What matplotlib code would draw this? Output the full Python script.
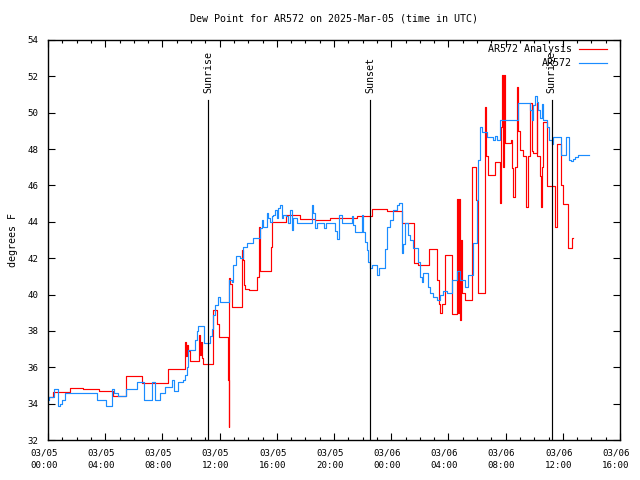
import matplotlib
matplotlib.use("Agg")
import matplotlib.pyplot as plt
import matplotlib.transforms as mtransforms
from matplotlib.lines import Line2D

# hours since 2025-03-05 00:00 UTC, dew point in deg F (step data)
ana_hours = [0.00, 0.35, 1.54, 2.45, 3.57, 4.55, 5.45, 6.57, 8.39, 9.58,
             9.65, 9.72, 9.79, 9.93, 10.56, 10.63, 10.70, 10.77, 10.84, 11.54,
             11.82, 11.99, 12.59, 12.64, 12.68, 12.73, 12.87, 13.55, 13.64, 13.71,
             13.78, 14.06, 14.62, 14.78, 14.83, 15.59, 15.64, 16.64, 17.62, 18.67,
             19.72, 21.59, 22.64, 23.69, 24.73, 25.62, 25.87, 26.64, 27.22, 27.36,
             27.41, 27.53, 27.76, 28.23, 28.58, 28.64, 28.74, 28.79, 28.85, 28.93,
             29.16, 29.63, 29.91, 30.05, 30.56, 30.66, 30.79, 31.26, 31.47, 31.61,
             31.68, 31.75, 31.82, 31.91, 31.96, 32.38, 32.47, 32.54, 32.68, 32.78,
             32.89, 33.01, 33.24, 33.43, 33.59, 33.71, 33.83, 33.94, 34.17, 34.23,
             34.41, 34.48, 34.55, 34.64, 34.87, 35.45, 35.62, 35.85, 35.99, 36.38,
             36.62, 36.73]
ana_dewpt = [34.35, 34.62, 34.84, 34.79, 34.69, 34.42, 35.50, 35.12, 35.89, 37.40,
             36.60, 37.20, 36.90, 36.33, 37.77, 36.70, 37.40, 36.50, 36.18, 39.15,
             38.40, 37.68, 35.30, 32.73, 40.89, 40.60, 39.30, 42.45, 41.90, 40.52,
             40.30, 40.25, 40.98, 43.73, 41.30, 42.63, 44.00, 44.37, 44.15, 44.10,
             44.23, 44.32, 44.69, 44.61, 43.95, 41.75, 41.60, 42.50, 40.80, 39.50,
             38.97, 39.50, 42.17, 38.95, 45.24, 39.00, 45.24, 38.60, 43.00, 40.07,
             39.70, 47.03, 45.20, 40.07, 50.33, 47.60, 46.57, 47.30, 47.30, 45.02,
             49.23, 52.07, 47.00, 52.07, 48.32, 48.50, 46.94, 45.38, 47.00, 51.43,
             49.00, 47.95, 47.60, 44.83, 47.60, 50.52, 47.90, 47.77, 50.52, 47.60,
             46.50, 44.83, 47.00, 49.50, 45.95, 43.73, 48.30, 46.00, 45.00, 42.54,
             43.09, 43.09]

obs_hours = [0.00, 0.07, 0.42, 0.72, 0.84, 0.96, 1.19, 3.41, 4.06, 4.45,
             4.62, 4.92, 5.45, 6.20, 6.73, 7.25, 7.48, 7.83, 8.18, 8.65,
             8.83, 9.11, 9.46, 9.58, 9.70, 9.79, 10.28, 10.40, 10.51, 10.94,
             11.33, 11.45, 11.56, 11.68, 11.91, 12.03, 12.68, 12.85, 12.96, 13.15,
             13.43, 13.66, 13.90, 14.36, 14.83, 14.94, 15.06, 15.29, 15.41, 15.52,
             15.64, 15.76, 15.87, 15.99, 16.11, 16.22, 16.34, 16.45, 16.64, 16.80,
             16.92, 17.04, 17.15, 17.39, 18.44, 18.55, 18.67, 18.79, 19.30, 19.42,
             20.07, 20.19, 20.37, 20.54, 21.24, 21.35, 21.47, 21.94, 22.05, 22.17,
             22.29, 22.40, 22.52, 22.64, 22.99, 23.17, 23.57, 23.69, 23.92, 24.15,
             24.38, 24.57, 24.73, 24.85, 24.97, 25.20, 25.31, 25.55, 25.90, 26.01,
             26.13, 26.24, 26.59, 26.71, 26.94, 27.18, 27.41, 27.64, 27.88, 28.23,
             28.58, 28.81, 29.16, 29.39, 29.74, 29.98, 30.09, 30.21, 30.33, 30.68,
             31.14, 31.26, 31.38, 31.61, 32.89, 33.71, 33.83, 33.94, 34.06, 34.17,
             34.29, 34.41, 34.52, 34.64, 34.87, 35.06, 35.23, 35.34, 35.85, 36.22,
             36.45, 36.55, 36.71, 36.85, 37.08, 37.85]
obs_dewpt = [34.20, 34.38, 34.79, 33.87, 34.00, 34.20, 34.57, 34.20, 33.87, 34.79,
             34.60, 34.42, 34.79, 35.21, 34.20, 35.21, 34.20, 34.57, 34.90, 35.30,
             34.69, 35.21, 35.30, 35.60, 36.03, 36.95, 37.50, 38.00, 38.27, 37.35,
             37.70, 38.10, 38.87, 39.40, 39.88, 39.57, 40.80, 40.70, 41.62, 42.12,
             42.00, 42.63, 42.82, 43.13, 43.64, 44.10, 43.70, 44.47, 44.20, 44.00,
             44.30, 44.40, 44.65, 44.20, 44.75, 44.93, 44.20, 44.37, 44.30, 43.95,
             44.65, 43.55, 44.20, 43.95, 44.93, 44.47, 43.64, 43.95, 43.64, 43.95,
             43.50, 43.04, 44.40, 43.95, 44.30, 43.80, 43.46, 44.37, 43.46, 42.91,
             42.45, 41.81, 41.44, 41.60, 41.07, 41.44, 42.50, 43.70, 44.10, 44.65,
             44.93, 45.05, 42.26, 42.80, 43.92, 43.30, 43.00, 42.54, 41.80, 40.98,
             40.70, 41.16, 40.43, 40.10, 39.88, 39.70, 40.00, 40.20, 40.07, 40.80,
             41.30, 40.80, 40.40, 41.07, 42.82, 45.20, 47.40, 49.23, 48.95, 48.65,
             48.50, 48.70, 48.50, 49.60, 50.55, 50.15, 49.60, 50.40, 50.92, 50.60,
             50.15, 49.70, 50.50, 49.60, 49.20, 48.50, 48.30, 48.65, 47.67, 48.65,
             47.40, 47.35, 47.45, 47.55, 47.67, 47.67]

sun_hours = [11.19, 22.52, 35.21]
sun_names = ["Sunrise", "Sunset", "Sunrise"]

tick_hours = list(range(0, 41, 4))
tick_labels = ["03/05\n00:00", "03/05\n04:00", "03/05\n08:00", "03/05\n12:00",
               "03/05\n16:00", "03/05\n20:00", "03/06\n00:00", "03/06\n04:00",
               "03/06\n08:00", "03/06\n12:00", "03/06\n16:00"]

plt.rcParams['font.family'] = 'DejaVu Sans Mono'
plt.rcParams['font.size'] = 7.2

fig = plt.figure(figsize=(6.4, 4.8), dpi=100)
ax = fig.add_axes([0.075, 0.0833, 0.89375, 0.8334])

ax.plot(ana_hours, ana_dewpt, color='#ff0000', lw=0.85, drawstyle='steps-post')
ax.plot(obs_hours, obs_dewpt, color='#1a8cff', lw=0.85, drawstyle='steps-post')

trans = mtransforms.blended_transform_factory(ax.transData, ax.transAxes)
for h, name in zip(sun_hours, sun_names):
    ax.plot([h, h], [0, 0.85], color='black', lw=0.85, transform=trans)
    ax.text(h, 0.868, name, transform=trans, rotation=90, ha='center', va='bottom')

ax.set_xlim(0, 40)
ax.set_ylim(32, 54)
ax.set_xticks(tick_hours)
ax.set_xticklabels(tick_labels, fontsize=6.6, linespacing=1.5)
ax.set_xticks(range(0, 41), minor=True)
ax.set_yticks(range(32, 55, 2))
ax.tick_params(which='both', direction='in', top=True, right=True, width=0.8)
ax.tick_params(which='major', length=5)
ax.tick_params(which='minor', length=2.5)
ax.tick_params(axis='x', which='major', pad=6)
ax.tick_params(axis='y', which='major', pad=7, labelsize=6.6)
# gnuplot puts the date labels a little left of their ticks
shift = mtransforms.ScaledTranslation(-0.04, 0, fig.dpi_scale_trans)
for lab in ax.get_xticklabels():
    lab.set_transform(lab.get_transform() + shift)
for s in ax.spines.values():
    s.set_linewidth(1.0)

ax.set_ylabel('degrees F', labelpad=7)
ax.set_title('Dew Point for AR572 on 2025-Mar-05 (time in UTC)', fontsize=7.2, pad=13)

# legend drawn by hand so the labels are right aligned like gnuplot
ax.text(0.916, 0.9775, 'AR572 Analysis', transform=ax.transAxes, ha='right', va='center')
ax.text(0.916, 0.9425, 'AR572', transform=ax.transAxes, ha='right', va='center')
ax.add_line(Line2D([0.928, 0.977], [0.9775, 0.9775], color='#ff0000', lw=0.85, transform=ax.transAxes))
ax.add_line(Line2D([0.928, 0.977], [0.9425, 0.9425], color='#1a8cff', lw=0.85, transform=ax.transAxes))

fig.savefig('out.png', dpi=100)
